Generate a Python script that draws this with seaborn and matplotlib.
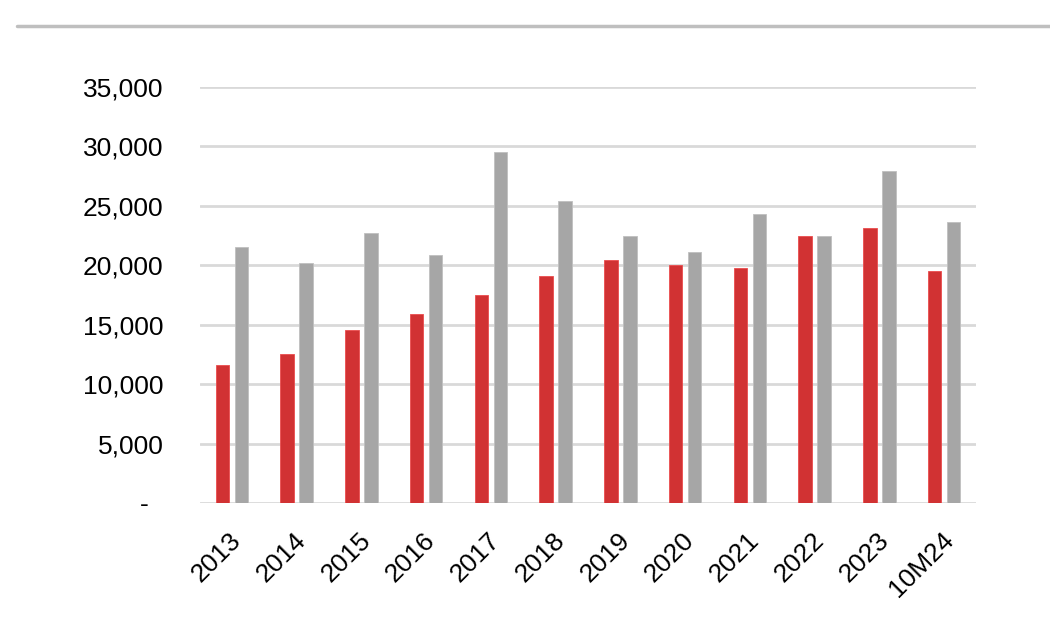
import matplotlib
matplotlib.use("Agg")
import matplotlib.pyplot as plt
import matplotlib.lines as mlines
import matplotlib.transforms as mtransforms
import seaborn as sns
import pandas as pd


years = ['2013', '2014', '2015', '2016', '2017', '2018',
         '2019', '2020', '2021', '2022', '2023', '10M24']
red_vals = [11600, 12500, 14550, 15900, 17500, 19080,
            20440, 20000, 19750, 22470, 23140, 19530]
grey_vals = [21560, 20200, 22700, 20890, 29500, 25440,
             22470, 21110, 24300, 22470, 27910, 23640]
series = ['A', 'B']
colors = ['#D13233', '#A6A6A6']
y_ticks = [0, 5000, 10000, 15000, 20000, 25000, 30000, 35000]

df = pd.DataFrame({
    'year': years * 2,
    'value': red_vals + grey_vals,
    'series': [series[0]] * len(years) + [series[1]] * len(years),
})

sns.set_theme(style="white")
plt.rcParams['font.family'] = ['Liberation Sans', 'DejaVu Sans']
plt.rcParams['text.color'] = 'black'
plt.rcParams['xtick.color'] = 'black'
plt.rcParams['ytick.color'] = 'black'

fig = plt.figure(figsize=(10.5, 6.3), dpi=100)
ax = fig.add_axes([0.19, 0.2016, 0.74, 0.6604])

sns.barplot(data=df, x='year', y='value', hue='series', palette=colors,
            width=0.59, gap=0.3, saturation=1, legend=False, ax=ax,
            linewidth=0.6)
for bar in ax.patches:
    fc = bar.get_facecolor()
    bar.set_edgecolor((min(fc[0] + 0.1, 1), min(fc[1] + 0.1, 1), min(fc[2] + 0.1, 1), 1))

ax.set_ylim(0, 35000)
ax.set_xlim(-0.5, len(years) - 0.5)
ax.set_yticks(y_ticks)
ax.set_yticklabels(['-  '] + [f"{v:,}" for v in y_ticks[1:]], fontsize=19)
ax.set_xticks(range(len(years)))
ax.set_xticklabels(years, fontsize=19, rotation=45, ha='right',
                   rotation_mode='anchor')
ax.tick_params(axis='y', length=0, pad=26)
ax.tick_params(axis='x', length=0, pad=18)
shift = mtransforms.ScaledTranslation(-3 / 100, 0, fig.dpi_scale_trans)
for lbl in ax.get_xticklabels():
    lbl.set_transform(lbl.get_transform() + shift)
ax.set_xlabel('')
ax.set_ylabel('')
ax.yaxis.grid(True, color='#D9D9D9', linewidth=2)
ax.set_axisbelow(True)
for s in ax.spines.values():
    s.set_visible(False)

# header rule across the top
fig.add_artist(mlines.Line2D([0.016, 1.0], [0.959, 0.959], color='#BFBFBF',
                             linewidth=2.5, transform=fig.transFigure))

fig.savefig('out.png', dpi=100)
